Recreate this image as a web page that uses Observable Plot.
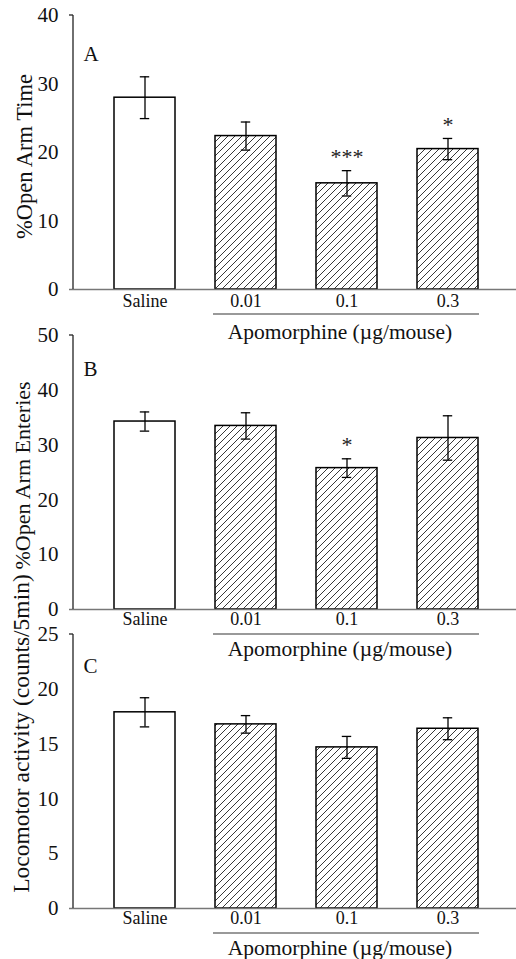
<!DOCTYPE html>
<html><head><meta charset="utf-8">
<script src="https://cdn.jsdelivr.net/npm/d3@7"></script>
<script src="https://cdn.jsdelivr.net/npm/@observablehq/plot@0.6"></script>
<style>
body{margin:0;background:#fff;}
#wrap{position:relative;width:516px;height:959px;font-family:"Liberation Serif","Times New Roman",serif;}
#wrap svg text{font-family:"Liberation Serif","Times New Roman",serif !important;}
</style></head><body>
<div id="wrap">
<svg width="0" height="0" style="position:absolute;left:0;top:0">
<defs><pattern id="hatch" patternUnits="userSpaceOnUse" width="7" height="7">
<path d="M-1,1 L1,-1 M0,7 L7,0 M6,8 L8,6" stroke="#222" stroke-width="0.9"/>
</pattern></defs></svg>
</div>
<script>
const doses = ["Saline", "0.01", "0.1", "0.3"];
const xTitle = "Apomorphine (\u00b5g/mouse)";

const timeMean = [28.0, 22.4, 15.5, 20.5];
const timeSem = [3.05, 2.05, 1.85, 1.55];
const timeSig = ["", "", "***", "*"];
const timeTicks = [0, 10, 20, 30, 40];

const entryMean = [34.3, 33.5, 25.8, 31.3];
const entrySem = [1.75, 2.4, 1.7, 4.05];
const entrySig = ["", "", "*", ""];
const entryTicks = [0, 10, 20, 30, 40, 50];

const locoMean = [17.9, 16.8, 14.7, 16.4];
const locoSem = [1.33, 0.8, 1.0, 1.0];
const locoSig = ["", "", "", ""];
const locoTicks = [0, 5, 10, 15, 20, 25];

const FONT = '"Liberation Serif","Times New Roman",serif';

function panel(o) {
  const data = doses.map((d, i) => ({dose: d, mean: o.means[i], lo: o.means[i] - o.sems[i], hi: o.means[i] + o.sems[i], sig: o.sigs[i]}));
  const yMax = o.ticks[o.ticks.length - 1];
  const capInset = 25.8;
  const plot = Plot.plot({
    width: 516,
    height: o.height,
    marginTop: 15,
    marginLeft: 69,
    marginRight: 0,
    marginBottom: o.height - 15 - 274,
    style: {background: "transparent", overflow: "visible", fontFamily: FONT, fontSize: "21px", color: "#111"},
    x: {domain: doses, range: [93.5, 497.5], paddingInner: 0.4, paddingOuter: 0.2, label: null, tickSize: 0, tickPadding: o.tickPad},
    y: {domain: [0, yMax], ticks: o.ticks, tickSize: 0, tickPadding: 11, label: null},
    marks: [
      Plot.barY(data.filter(d => d.dose === "Saline"), {x: "dose", y: "mean", fill: "white", stroke: "black", strokeWidth: 1.5}),
      Plot.barY(data.filter(d => d.dose !== "Saline"), {x: "dose", y: "mean", fill: "url(#hatch)", stroke: "black", strokeWidth: 1.5}),
      Plot.ruleX(data, {x: "dose", y1: "lo", y2: "hi", stroke: "black", strokeWidth: 1.3}),
      Plot.tickY(data, {x: "dose", y: "hi", insetLeft: capInset, insetRight: capInset, stroke: "black", strokeWidth: 1.3}),
      Plot.tickY(data, {x: "dose", y: "lo", insetLeft: capInset, insetRight: capInset, stroke: "black", strokeWidth: 1.3}),
      Plot.ruleY([0], {stroke: "#777", strokeWidth: 1.6}),
      Plot.text(data.filter(d => d.sig), {x: "dose", y: "hi", text: "sig", dy: -14, fontSize: 22, fill: "#222"}),
      Plot.text([o.letter], {frameAnchor: "top-left", dx: 14, dy: o.letterDy, textAnchor: "start", lineAnchor: "bottom", fontSize: 21}),
      Plot.text([o.yLabel], {frameAnchor: "left", rotate: -90, dx: o.labelDx, dy: o.labelDy, fontSize: o.labelSize, textAnchor: "middle", lineAnchor: "middle"}),
      Plot.text([{dose: "0.1", t: xTitle}], {x: "dose", text: "t", frameAnchor: "bottom", dx: -7, dy: o.titleDy, textAnchor: "middle", lineAnchor: "bottom", fontSize: 21.5})
    ]
  });
  plot.style.position = "absolute";
  plot.style.left = "0px";
  plot.style.top = o.top + "px";
  const svg = d3.select(plot);
  svg.selectAll('[aria-label^="x-axis"] text').style("font-size", "18px");
  const x = plot.scale("x"), y = plot.scale("y");
  const x0 = x.apply("0.01") - 2, x1 = x.apply("0.3") + x.bandwidth + 1;
  const y0 = y.apply(0), yTop = y.apply(yMax);
  svg.append("line").attr("x1", x0).attr("x2", x1).attr("y1", y0 + 25).attr("y2", y0 + 25)
    .attr("stroke", "#777").attr("stroke-width", 1.6);
  svg.append("line").attr("x1", 73).attr("x2", 73).attr("y1", yTop).attr("y2", y0)
    .attr("stroke", "#222").attr("stroke-width", 1.3);
  svg.append("line").attr("x1", 69).attr("x2", 73).attr("y1", yTop).attr("y2", yTop)
    .attr("stroke", "#222").attr("stroke-width", 1.3);
  document.getElementById("wrap").appendChild(plot);
}

panel({letter: "A", yLabel: "%Open Arm Time", means: timeMean, sems: timeSem, sigs: timeSig, ticks: timeTicks,
  top: 0, height: 349, letterDy: 45, labelDx: -45, labelDy: 4, labelSize: 22.5, tickPad: 5, titleDy: 49});
panel({letter: "B", yLabel: "%Open Arm Enteries", means: entryMean, sems: entrySem, sigs: entrySig, ticks: entryTicks,
  top: 320, height: 340, letterDy: 40, labelDx: -47, labelDy: 3, labelSize: 22, tickPad: 3, titleDy: 46});
panel({letter: "C", yLabel: "Locomotor activity (counts/5min)", means: locoMean, sems: locoSem, sigs: locoSig, ticks: locoTicks,
  top: 619, height: 340, letterDy: 38, labelDx: -48, labelDy: -38, labelSize: 23.5, tickPad: 3, titleDy: 46});
</script>
</body></html>
